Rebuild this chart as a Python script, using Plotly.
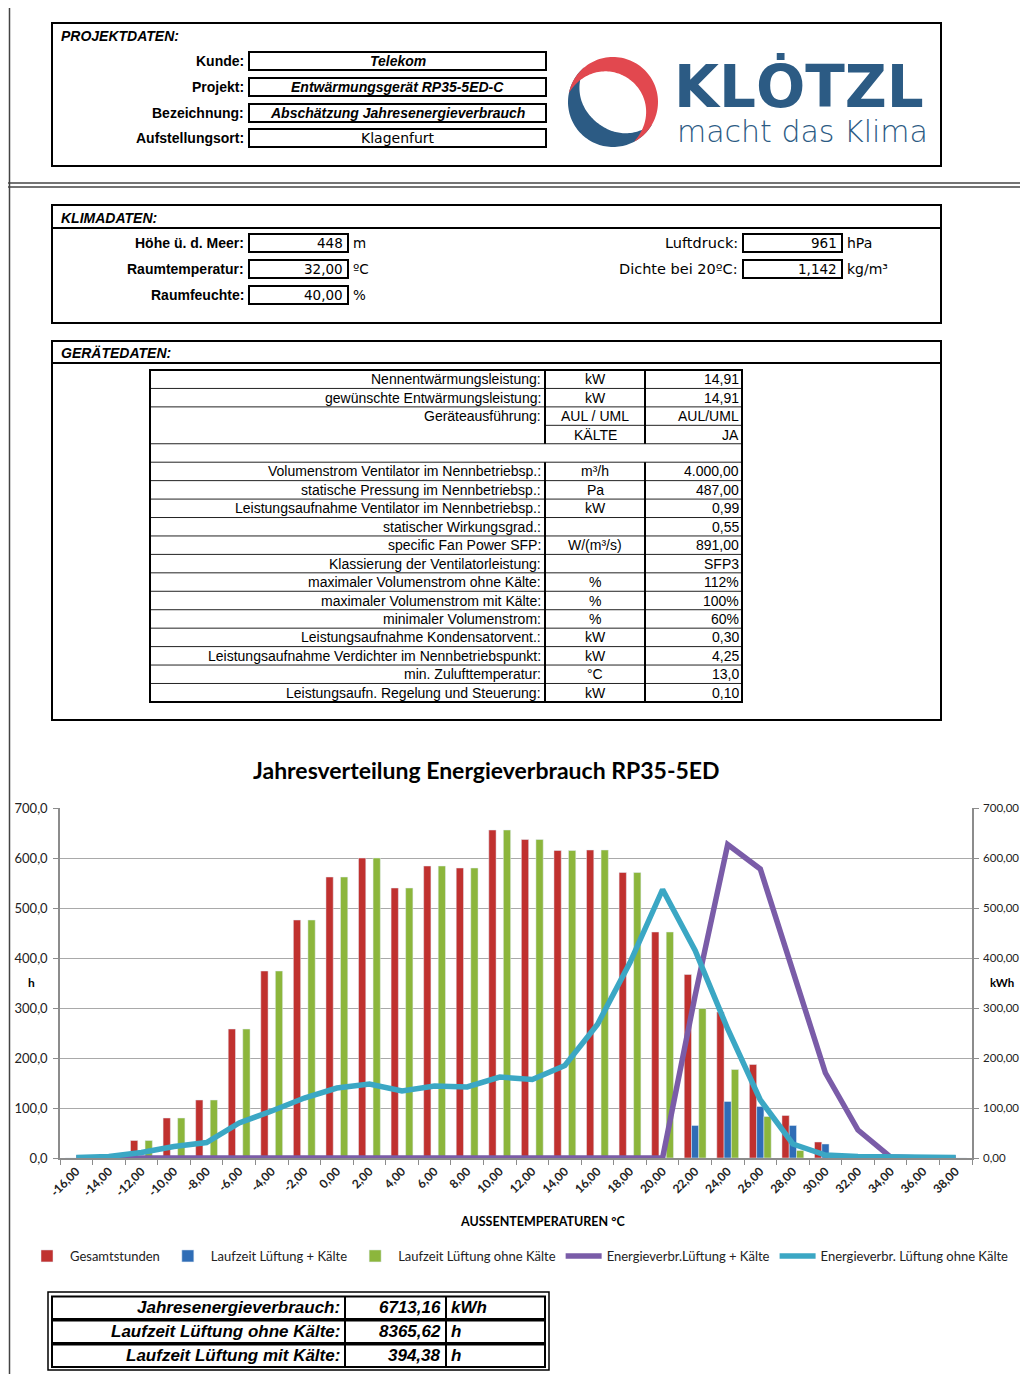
import math
import plotly.graph_objects as go

# page (window) size and the figure size inside the 8px body margin
PAGE_W, PAGE_H = 1028, 1382
OFF = 8
W, H = PAGE_W - 2 * OFF, PAGE_H - 2 * OFF

# ------------------------------------------------------------------ data
projekt_labels = ["Kunde:", "Projekt:", "Bezeichnung:", "Aufstellungsort:"]
projekt_values = ["Telekom", "Entwärmungsgerät RP35-5ED-C",
                  "Abschätzung Jahresenergieverbrauch", "Klagenfurt"]

klima_left_labels = ["Höhe ü. d. Meer:", "Raumtemperatur:", "Raumfeuchte:"]
klima_left_values = ["448", "32,00", "40,00"]
klima_left_units = ["m", "ºC", "%"]
klima_right_labels = ["Luftdruck:", "Dichte bei 20ºC:"]
klima_right_values = ["961", "1,142"]
klima_right_units = ["hPa", "kg/m³"]

geraet_top_param = ["Nennentwärmungsleistung:", "gewünschte Entwärmungsleistung:",
                    "Geräteausführung:", ""]
geraet_top_unit = ["kW", "kW", "AUL / UML", "KÄLTE"]
geraet_top_value = ["14,91", "14,91", "AUL/UML", "JA"]

geraet_param = ["Volumenstrom Ventilator im Nennbetriebsp.:",
                "statische Pressung im Nennbetriebsp.:",
                "Leistungsaufnahme Ventilator im Nennbetriebsp.:",
                "statischer Wirkungsgrad.:",
                "specific Fan Power SFP:",
                "Klassierung der Ventilatorleistung:",
                "maximaler Volumenstrom ohne Kälte:",
                "maximaler Volumenstrom mit Kälte:",
                "minimaler Volumenstrom:",
                "Leistungsaufnahme Kondensatorvent.:",
                "Leistungsaufnahme Verdichter im Nennbetriebspunkt:",
                "min. Zulufttemperatur:",
                "Leistungsaufn. Regelung und Steuerung:"]
geraet_unit = ["m³/h", "Pa", "kW", "", "W/(m³/s)", "", "%", "%", "%", "kW", "kW", "°C", "kW"]
geraet_value = ["4.000,00", "487,00", "0,99", "0,55", "891,00", "SFP3", "112%", "100%",
                "60%", "0,30", "4,25", "13,0", "0,10"]

temps = list(range(-16, 40, 2))
temp_labels = [f"{t},00" for t in temps]
gesamtstunden = [0, 0, 35, 80, 116, 258, 374, 476, 562, 600, 540, 584, 580, 656,
                 637, 615, 616, 571, 452, 367, 292, 187, 85, 32, 0, 0, 0, 0]
laufzeit_kaelte = [0, 0, 0, 0, 0, 0, 0, 0, 0, 0, 0, 0, 0, 0,
                   0, 0, 0, 0, 0, 65, 113, 103, 65, 28, 0, 0, 0, 0]
laufzeit_ohne = [0, 0, 35, 80, 116, 258, 374, 476, 562, 600, 540, 584, 580, 656,
                 637, 615, 616, 571, 452, 299, 177, 83, 15, 4, 0, 0, 0, 0]
energie_kaelte = [0, 0, 0, 0, 0, 0, 0, 0, 0, 0, 0, 0, 0, 0,
                  0, 0, 0, 0, 0, 325, 627, 578, 370, 170, 56, 2, 0, 0]
energie_ohne = [1, 3, 11, 23, 31, 70, 94, 120, 140, 148, 134, 144, 142, 162,
                157, 185, 267, 391, 537, 415, 258, 116, 28, 6, 3, 2, 1, 1]

summary_labels = ["Jahresenergieverbrauch:", "Laufzeit Lüftung ohne Kälte:",
                  "Laufzeit Lüftung mit Kälte:"]
summary_values = ["6713,16", "8365,62", "394,38"]
summary_units = ["kWh", "h", "h"]

# ------------------------------------------------------------------ helpers
def px(x):
    return (x - OFF) / W


def py(y):
    return 1 - (y - OFF) / H


shapes = []
annotations = []


def rect(x0, y0, x1, y1, width=2, color="black"):
    shapes.append(dict(type="rect", xref="paper", yref="paper", x0=px(x0), x1=px(x1),
                       y0=py(y1), y1=py(y0), line=dict(color=color, width=width),
                       layer="above"))


def line(x0, y0, x1, y1, width=1, color="black"):
    shapes.append(dict(type="line", xref="paper", yref="paper", x0=px(x0), x1=px(x1),
                       y0=py(y0), y1=py(y1), line=dict(color=color, width=width),
                       layer="above"))


def text(x, y, s, anchor="left", size=13, family="Liberation Sans", weight="normal",
         style="normal", color="black", **extra):
    d = dict(xref="paper", yref="paper", x=px(x), y=py(y), text=s,
             xanchor=anchor, yanchor="middle", showarrow=False,
             font=dict(family=family, size=size, weight=weight, style=style,
                       color=color))
    d.update(extra)
    annotations.append(d)


# ------------------------------------------------------------------ page frame
line(8, 5, 1028, 5, 2, "#444")
line(6, 5, 6, 1382, 1.5, "#444")
line(9.5, 5, 9.5, 1382, 1.5, "#444")
line(8, 183, 1028, 183, 1.5, "#444")
line(8, 187, 1028, 187, 1.5, "#444")

# ------------------------------------------------------------------ PROJEKTDATEN
rect(52, 23, 941, 166, 2)
text(59, 36, "PROJEKTDATEN:", size=14, weight="bold", style="italic")
proj_rows = [61, 87, 113, 138]
for i, (lab, val) in enumerate(zip(projekt_labels, projekt_values)):
    y = proj_rows[i]
    text(246, y, lab, "right", size=14, weight="bold")
    rect(249, y - 9, 546, y + 9, 2)
    if i < 3:
        text(397.5, y, val, "center", size=14, weight="bold", style="italic")
    else:
        text(397.5, y, val, "center", size=14, family="DejaVu Sans")

# logo
LOGO_BLUE = "#2c5b84"
LOGO_RED = "#e2484f"


def crescent(cx, cy, R, a0, a1, tmax, color, n=80):
    outer, inner = [], []
    for i in range(n + 1):
        a = math.radians(a0 + (a1 - a0) * i / n)
        t = tmax * math.sin(math.pi * i / n) ** 0.9
        outer.append((cx + R * math.cos(a), cy - R * math.sin(a)))
        inner.append((cx + (R - t) * math.cos(a), cy - (R - t) * math.sin(a)))
    pts = outer + inner[::-1]
    path = "M " + " L ".join(f"{px(x):.5f},{py(y):.5f}" for x, y in pts) + " Z"
    shapes.append(dict(type="path", xref="paper", yref="paper", path=path,
                       fillcolor=color, line=dict(width=0), layer="above"))


crescent(613, 102, 45, 130, 330, 19, LOGO_BLUE)
crescent(613, 102, 45, 168, -62, 17, LOGO_RED)
# the word mark has no descenders, so its text box is trimmed at the bottom
text(672, 80.5, "KLȮTZL", size=58, family="DejaVu Sans", weight="bold",
     color=LOGO_BLUE, height=56, valign="top")
# the slogan box is trimmed above its ascenders
text(675, 133.5, "macht das Klima", size=30, family="DejaVu Sans", weight=200,
     color=LOGO_BLUE, height=30, valign="bottom")

# ------------------------------------------------------------------ KLIMADATEN
rect(52, 205, 941, 323, 2)
line(52, 228, 941, 228, 2)
text(59, 218, "KLIMADATEN:", size=14, weight="bold", style="italic")
klima_rows = [243, 269, 295]
for i in range(3):
    y = klima_rows[i]
    text(246, y, klima_left_labels[i], "right", size=14, weight="bold")
    rect(249, y - 9, 348, y + 9, 2)
    text(345, y, klima_left_values[i], "right", size=13.5, family="DejaVu Sans")
    text(351, y, klima_left_units[i], "left", size=13.5, family="DejaVu Sans")
for i in range(2):
    y = klima_rows[i]
    text(740, y, klima_right_labels[i], "right", size=14.5, family="DejaVu Sans")
    rect(743, y - 9, 842, y + 9, 2)
    text(839, y, klima_right_values[i], "right", size=13.5, family="DejaVu Sans")
    text(845, y, klima_right_units[i], "left", size=14, family="DejaVu Sans")

# ------------------------------------------------------------------ GERÄTEDATEN
rect(52, 341, 941, 720, 2)
line(52, 363, 941, 363, 2)
text(59, 353, "GERÄTEDATEN:", size=14, weight="bold", style="italic")

param_all = geraet_top_param + [""] + geraet_param
unit_all = geraet_top_unit + [""] + geraet_unit
value_all = geraet_top_value + [""] + geraet_value
ROW = 18.44
T_TOP = 370
BLANK = len(geraet_top_param)
n_rows = len(param_all)
T_BOT = T_TOP + n_rows * ROW
for k in range(1, n_rows):
    yb = T_TOP + k * ROW
    if k == BLANK - 1:
        line(545, yb, 742, yb, 1, "#222")
    else:
        line(150, yb, 742, yb, 1, "#222")
for xv in (545, 645):
    line(xv, T_TOP, xv, T_TOP + BLANK * ROW, 2)
    line(xv, T_TOP + (BLANK + 1) * ROW, xv, T_BOT, 2)
rect(150, T_TOP, 742, T_BOT, 2)
for i in range(n_rows):
    yc = T_TOP + (i + 0.5) * ROW
    if param_all[i]:
        text(543, yc, param_all[i], "right", size=14)
    if unit_all[i]:
        text(595, yc, unit_all[i], "center", size=14)
    if value_all[i]:
        text(741, yc, value_all[i], "right", size=14)

# ------------------------------------------------------------------ summary table
S_TOP = 1296
S_ROW = 24
rect(48, 1292, 549, 1370, 1.5)
for k in range(len(summary_labels)):
    y0 = S_TOP + k * S_ROW
    rect(52, y0 + 0.5, 545, y0 + S_ROW - 1, 2)
    line(345, y0 + 0.5, 345, y0 + S_ROW - 1, 2)
    line(446, y0 + 0.5, 446, y0 + S_ROW - 1, 2)
    yc = y0 + S_ROW / 2 - 0.5
    text(342, yc, summary_labels[k], "right", size=17, weight="bold", style="italic")
    text(443, yc, summary_values[k], "right", size=17, weight="bold", style="italic")
    text(449, yc, summary_units[k], "left", size=17, weight="bold", style="italic")

# ------------------------------------------------------------------ chart
RED, BLUE, GREEN = "#c0312f", "#2f6db6", "#8cb63c"
PURPLE, CYAN = "#7a5ca8", "#3ba7c4"

fig = go.Figure()
fig.add_bar(x=temp_labels, y=gesamtstunden, name="Gesamtstunden", marker_color=RED)
fig.add_bar(x=temp_labels, y=laufzeit_kaelte, name="Laufzeit Lüftung + Kälte",
            marker_color=BLUE)
fig.add_bar(x=temp_labels, y=laufzeit_ohne, name="Laufzeit Lüftung ohne Kälte",
            marker_color=GREEN)
fig.add_scatter(x=temp_labels, y=energie_kaelte, mode="lines", yaxis="y2",
                name="Energieverbr.Lüftung + Kälte", cliponaxis=False,
                line=dict(color=PURPLE, width=5.5))
fig.add_scatter(x=temp_labels, y=energie_ohne, mode="lines", yaxis="y2",
                name="Energieverbr. Lüftung ohne Kälte", cliponaxis=False,
                line=dict(color=CYAN, width=5.5))

text(486, 770, "Jahresverteilung Energieverbrauch RP35-5ED", "center", size=23,
     family="Lato", weight="bold")
text(31, 983, "h", "center", size=12, family="Lato", weight="bold")
text(1016, 983, "kWh", "right", size=11.5, family="Lato", weight="bold")
text(542, 1221, "AUSSENTEMPERATUREN °C", "center", size=12.5, family="Lato",
     weight="bold")

AX = "#8c8c8c"
fig.update_layout(
    width=W, height=H, autosize=False,
    margin=dict(l=0, r=0, t=0, b=0, pad=0, autoexpand=False),
    paper_bgcolor="white", plot_bgcolor="white",
    separators=",.",
    barmode="group", bargap=0.33, bargroupgap=0,
    showlegend=True,
    legend=dict(orientation="h", x=px(24), y=py(1241), xanchor="left", yanchor="top",
                font=dict(family="Lato", size=13, color="#222"), itemwidth=36,
                bgcolor="rgba(0,0,0,0)", traceorder="normal"),
    xaxis=dict(domain=[px(60), px(972)], type="category", tickson="boundaries",
               ticks="outside", ticklen=5, tickcolor=AX, showline=True, linecolor=AX,
               linewidth=1.5, tickangle=-45, showgrid=False, anchor="y",
               automargin=False,
               tickfont=dict(family="Lato", size=12, weight="bold", color="#222")),
    yaxis=dict(domain=[py(1158), py(808)], range=[0, 700], dtick=100,
               tickformat=".1f", ticks="outside", ticklen=5, tickcolor=AX,
               showline=True, linecolor=AX, linewidth=1.5, gridcolor="#a9a9a9",
               gridwidth=1, zeroline=False, anchor="x", automargin=False,
               ticklabelstandoff=3,
               tickfont=dict(family="Lato", size=13, color="#222")),
    yaxis2=dict(overlaying="y", side="right", range=[0, 700], dtick=100,
                tickformat=".2f", ticks="outside", ticklen=5, tickcolor=AX,
                showline=True, linecolor=AX, linewidth=1.5, showgrid=False,
                zeroline=False, anchor="x", automargin=False,
                ticklabelstandoff=2,
                tickfont=dict(family="Lato", size=11.5, color="#222")),
    shapes=shapes,
    annotations=annotations,
)

fig.write_html("out.html")
